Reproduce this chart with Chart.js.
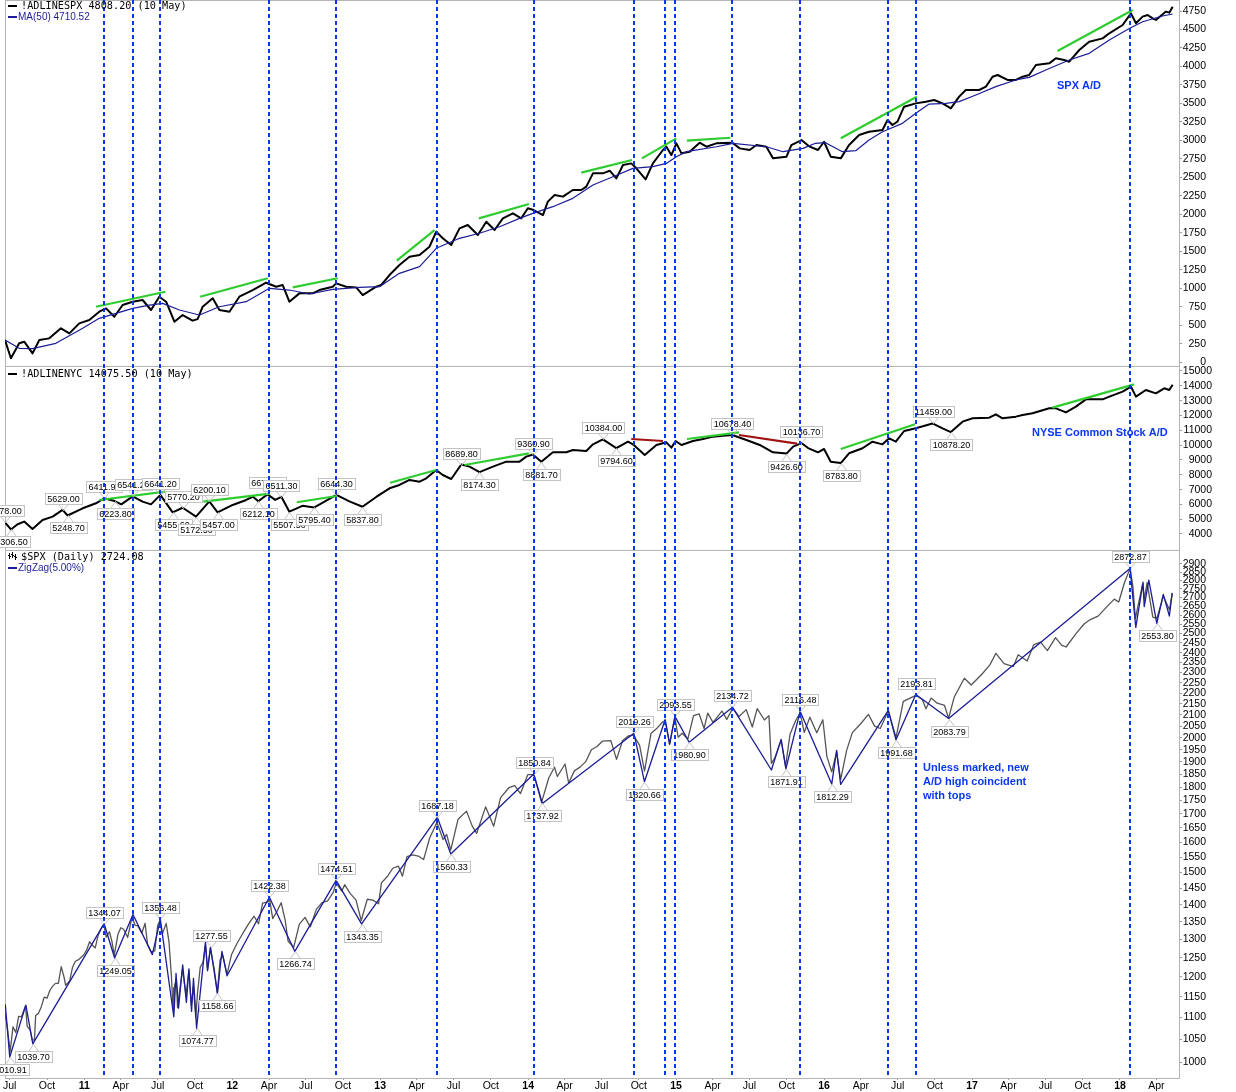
<!DOCTYPE html>
<html><head><meta charset="utf-8">
<script src="https://cdn.jsdelivr.net/npm/chart.js@4/dist/chart.umd.min.js"></script>
<style>html,body{margin:0;padding:0;background:#fff;overflow:hidden}canvas{display:block}</style>
</head><body>
<canvas id="c" width="1236" height="1092"></canvas>
<script>
// ---------- DATA ----------
const xTickDates = ['2010-07-01','2010-10-01','2011-01-01','2011-04-01','2011-07-01','2011-10-01','2012-01-01','2012-04-01','2012-07-01','2012-10-01','2013-01-01','2013-04-01','2013-07-01','2013-10-01','2014-01-01','2014-04-01','2014-07-01','2014-10-01','2015-01-01','2015-04-01','2015-07-01','2015-10-01','2016-01-01','2016-04-01','2016-07-01','2016-10-01','2017-01-01','2017-04-01','2017-07-01','2017-10-01','2018-01-01','2018-04-01'];
const xTickLabels = ['Jul','Oct','11','Apr','Jul','Oct','12','Apr','Jul','Oct','13','Apr','Jul','Oct','14','Apr','Jul','Oct','15','Apr','Jul','Oct','16','Apr','Jul','Oct','17','Apr','Jul','Oct','18','Apr'];
const adTicks = [0,250,500,750,1000,1250,1500,1750,2000,2250,2500,2750,3000,3250,3500,3750,4000,4250,4500,4750];
const nyTicks = [4000,5000,6000,7000,8000,9000,10000,11000,12000,13000,14000,15000];
const spxTicks = [1000,1050,1100,1150,1200,1250,1300,1350,1400,1450,1500,1550,1600,1650,1700,1750,1800,1850,1900,1950,2000,2050,2100,2150,2200,2250,2300,2350,2400,2450,2500,2550,2600,2650,2700,2750,2800,2850,2900];

// vertical dashed "top" markers
const topDates = ['2011-02-18','2011-05-02','2011-07-07','2012-04-02','2012-09-14','2013-05-22','2014-01-15','2014-09-19','2014-12-05','2014-12-29','2015-05-20','2015-11-03','2016-06-08','2016-08-15','2018-01-26'];

// !ADLINESPX [decimal year, value]
const adSpx = [[2010.464,298],[2010.504,50],[2010.560,253],[2010.594,275],[2010.650,117],[2010.696,298],[2010.763,320],[2010.842,456],[2010.899,388],[2010.966,523],[2011.034,568],[2011.101,681],[2011.147,726],[2011.203,613],[2011.259,771],[2011.327,816],[2011.394,839],[2011.451,704],[2011.507,884],[2011.553,816],[2011.609,545],[2011.665,636],[2011.732,560],[2011.766,580],[2011.800,748],[2011.868,862],[2011.913,704],[2011.981,681],[2012.048,884],[2012.138,974],[2012.229,1073],[2012.297,1019],[2012.341,1042],[2012.386,816],[2012.454,929],[2012.544,929],[2012.589,974],[2012.679,1019],[2012.702,1064],[2012.770,1019],[2012.838,1010],[2012.882,906],[2012.973,1019],[2013.007,1042],[2013.063,1177],[2013.130,1313],[2013.198,1425],[2013.266,1448],[2013.333,1560],[2013.379,1764],[2013.423,1674],[2013.480,1583],[2013.536,1809],[2013.592,1854],[2013.626,1787],[2013.660,1719],[2013.717,1899],[2013.773,1787],[2013.829,1944],[2013.897,2012],[2013.953,1944],[2013.998,2080],[2014.037,2057],[2014.100,1989],[2014.133,2170],[2014.179,2260],[2014.235,2238],[2014.302,2328],[2014.359,2328],[2014.393,2373],[2014.438,2553],[2014.505,2553],[2014.551,2589],[2014.596,2485],[2014.641,2666],[2014.697,2688],[2014.731,2621],[2014.794,2472],[2014.843,2688],[2014.911,2869],[2014.934,2914],[2014.968,2801],[2015.002,2959],[2015.036,2824],[2015.092,2846],[2015.159,2968],[2015.205,2914],[2015.272,2959],[2015.380,2968],[2015.430,2891],[2015.497,2869],[2015.543,2936],[2015.610,2914],[2015.655,2756],[2015.746,2779],[2015.779,2936],[2015.847,3004],[2015.903,2914],[2015.959,2869],[2016.000,2981],[2016.045,2779],[2016.113,2756],[2016.169,2936],[2016.237,3072],[2016.304,3117],[2016.395,3139],[2016.429,3275],[2016.462,3207],[2016.496,3252],[2016.541,3455],[2016.620,3500],[2016.688,3523],[2016.744,3545],[2016.801,3500],[2016.857,3433],[2016.913,3591],[2016.958,3681],[2017.048,3681],[2017.094,3726],[2017.139,3861],[2017.173,3884],[2017.240,3817],[2017.296,3817],[2017.342,3861],[2017.386,3884],[2017.432,4019],[2017.522,4042],[2017.567,4110],[2017.623,4087],[2017.657,4064],[2017.725,4222],[2017.792,4335],[2017.883,4380],[2017.928,4448],[2018.018,4561],[2018.074,4719],[2018.108,4584],[2018.153,4674],[2018.187,4696],[2018.221,4651],[2018.243,4629],[2018.311,4742],[2018.333,4728],[2018.356,4808]];

// MA(50) of !ADLINESPX
const adSpxMA = [[2010.464,298],[2010.560,185],[2010.650,180],[2010.808,253],[2010.989,456],[2011.101,591],[2011.327,726],[2011.440,771],[2011.530,794],[2011.643,704],[2011.778,636],[2011.913,748],[2012.094,816],[2012.251,997],[2012.386,974],[2012.521,920],[2012.679,983],[2012.860,1010],[2012.995,1019],[2013.130,1200],[2013.266,1290],[2013.379,1539],[2013.536,1674],[2013.671,1742],[2013.807,1831],[2013.942,1944],[2014.032,2012],[2014.167,2102],[2014.302,2215],[2014.438,2395],[2014.573,2507],[2014.708,2621],[2014.843,2643],[2014.934,2688],[2015.002,2778],[2015.069,2846],[2015.272,2913],[2015.385,2959],[2015.610,2913],[2015.723,2846],[2015.858,2891],[2015.942,2960],[2016.010,2968],[2016.124,2846],[2016.214,2860],[2016.304,3004],[2016.395,3117],[2016.530,3230],[2016.620,3365],[2016.710,3491],[2016.823,3500],[2016.913,3523],[2017.026,3613],[2017.161,3726],[2017.296,3817],[2017.386,3852],[2017.522,3972],[2017.657,4087],[2017.792,4177],[2017.928,4357],[2018.063,4514],[2018.153,4605],[2018.288,4682],[2018.356,4710]];

// !ADLINENYC
const adNyse = [[2010.464,4778],[2010.504,4306.5],[2010.549,4655],[2010.594,4835],[2010.650,4340],[2010.718,4947],[2010.786,5172],[2010.853,5629],[2010.887,5248.7],[2010.989,5734],[2011.079,6071],[2011.135,6411.9],[2011.205,6223.8],[2011.250,6000],[2011.327,6541.2],[2011.394,6184],[2011.451,6000],[2011.514,6641.2],[2011.597,5455.6],[2011.665,5770.2],[2011.755,5172.5],[2011.845,6200.1],[2011.901,5457],[2012.003,5959],[2012.094,6296],[2012.140,6521],[2012.176,6212.1],[2012.238,6677.1],[2012.290,6300],[2012.332,6511.3],[2012.386,5507.5],[2012.474,5900],[2012.555,5795.4],[2012.704,6644.3],[2012.792,6200],[2012.880,5837.8],[2012.973,6500],[2013.063,7083],[2013.130,7308],[2013.198,7646],[2013.266,7533],[2013.311,7758],[2013.379,8320],[2013.423,7983],[2013.480,7713],[2013.548,8689.8],[2013.604,8545],[2013.671,8174.3],[2013.762,8545],[2013.852,8883],[2013.942,8883],[2013.987,9220],[2014.032,9360.9],[2014.089,8881.7],[2014.167,9513],[2014.258,9513],[2014.302,9670],[2014.393,9602],[2014.438,10052],[2014.505,10384],[2014.596,9794.6],[2014.675,10232],[2014.708,10052],[2014.788,9333],[2014.867,10007],[2014.934,10187],[2014.968,9827],[2014.997,10277],[2015.036,10007],[2015.114,10277],[2015.182,10412],[2015.249,10570],[2015.317,10637],[2015.380,10678.4],[2015.475,10345],[2015.565,10007],[2015.655,9513],[2015.746,9426.6],[2015.791,9895],[2015.847,10136.7],[2015.892,9800],[2015.959,9513],[2016.000,9736],[2016.045,8880],[2016.113,8783.8],[2016.169,9446],[2016.260,9784],[2016.327,10229],[2016.395,10050],[2016.440,10459],[2016.485,10232],[2016.541,10951],[2016.620,11133],[2016.733,11459],[2016.801,11132],[2016.857,10878.2],[2016.936,11582],[2017.004,11806],[2017.116,11851],[2017.161,12076],[2017.206,11806],[2017.296,11919],[2017.342,12031],[2017.409,12144],[2017.522,12481],[2017.567,12481],[2017.635,12211],[2017.702,12594],[2017.770,13088],[2017.883,13088],[2017.928,13268],[2018.018,13606],[2018.074,13950],[2018.108,13268],[2018.175,13718],[2018.243,13493],[2018.299,13831],[2018.333,13718],[2018.356,14075.5]];
const nyPeaks = [[2010.464,4778.00],[2010.853,5629.00],[2011.135,6411.90],[2011.327,6541.20],[2011.514,6641.20],[2011.665,5770.20],[2011.845,6200.10],[2012.238,6677.10],[2012.332,6511.30],[2012.704,6644.30],[2013.548,8689.80],[2014.032,9360.90],[2014.505,10384.00],[2015.380,10678.40],[2015.847,10136.70],[2016.733,11459.00]];
const nyTroughs = [[2010.504,4306.50],[2010.887,5248.70],[2011.205,6223.80],[2011.597,5455.60],[2011.755,5172.50],[2011.901,5457.00],[2012.176,6212.10],[2012.386,5507.50],[2012.555,5795.40],[2012.880,5837.80],[2013.671,8174.30],[2014.089,8881.70],[2014.596,9794.60],[2015.746,9426.60],[2016.113,8783.80],[2016.857,10878.20]];

// $SPX daily closes [date, close]
const spxClose = [['2010-06-18',1117.5],['2010-06-25',1076.8],['2010-07-02',1022.6],['2010-07-09',1078],['2010-07-16',1065],['2010-07-23',1102.7],['2010-07-30',1101.6],['2010-08-09',1127.8],['2010-08-13',1079.3],['2010-08-20',1071.7],['2010-08-26',1047.2],['2010-08-31',1049.3],['2010-09-03',1104.5],['2010-09-10',1109.6],['2010-09-17',1125.6],['2010-09-24',1148.7],['2010-10-01',1146.2],['2010-10-08',1165.2],['2010-10-15',1176.2],['2010-10-22',1183.1],['2010-10-29',1183.3],['2010-11-05',1225.9],['2010-11-12',1199.2],['2010-11-16',1178.3],['2010-11-26',1189.4],['2010-12-03',1224.7],['2010-12-10',1240.4],['2010-12-17',1243.9],['2010-12-31',1257.6],['2011-01-07',1271.5],['2011-01-14',1293.2],['2011-01-21',1283.4],['2011-01-28',1276.3],['2011-02-04',1310.9],['2011-02-11',1329.2],['2011-02-18',1343.0],['2011-02-24',1306.1],['2011-03-04',1321.2],['2011-03-10',1295.1],['2011-03-16',1256.9],['2011-03-25',1313.8],['2011-04-01',1332.4],['2011-04-08',1328.2],['2011-04-18',1305.1],['2011-04-29',1363.6],['2011-05-06',1340.2],['2011-05-13',1337.8],['2011-05-23',1317.4],['2011-05-31',1345.2],['2011-06-06',1286.2],['2011-06-15',1265.4],['2011-06-24',1268.5],['2011-07-01',1339.7],['2011-07-07',1353.2],['2011-07-12',1313.6],['2011-07-22',1345.0],['2011-07-29',1292.3],['2011-08-04',1200.1],['2011-08-08',1119.5],['2011-08-09',1172.5],['2011-08-10',1120.8],['2011-08-12',1178.8],['2011-08-16',1192.8],['2011-08-19',1123.5],['2011-08-31',1218.9],['2011-09-09',1154.2],['2011-09-16',1216.0],['2011-09-22',1129.6],['2011-09-27',1175.4],['2011-10-03',1099.2],['2011-10-07',1155.5],['2011-10-14',1224.6],['2011-10-21',1238.2],['2011-10-27',1284.6],['2011-11-01',1218.3],['2011-11-08',1275.9],['2011-11-18',1215.7],['2011-11-25',1158.7],['2011-12-02',1244.3],['2011-12-09',1255.2],['2011-12-19',1205.4],['2011-12-30',1257.6],['2012-01-13',1289.1],['2012-01-27',1316.3],['2012-02-10',1342.6],['2012-02-24',1365.7],['2012-03-06',1343.4],['2012-03-16',1404.2],['2012-03-30',1408.5],['2012-04-02',1419.0],['2012-04-10',1358.6],['2012-04-20',1378.5],['2012-05-01',1405.8],['2012-05-11',1353.4],['2012-05-18',1295.2],['2012-06-01',1278.0],['2012-06-15',1342.8],['2012-06-29',1362.2],['2012-07-12',1334.8],['2012-07-27',1385.9],['2012-08-10',1405.9],['2012-08-24',1411.1],['2012-09-07',1437.9],['2012-09-14',1465.8],['2012-09-28',1440.7],['2012-10-05',1460.9],['2012-10-19',1433.2],['2012-11-02',1414.2],['2012-11-15',1353.3],['2012-11-30',1416.2],['2012-12-14',1413.6],['2012-12-28',1402.4],['2013-01-04',1466.5],['2013-01-18',1485.9],['2013-02-01',1513.2],['2013-02-15',1519.8],['2013-02-25',1487.9],['2013-03-08',1551.2],['2013-03-22',1556.9],['2013-04-05',1553.3],['2013-04-18',1541.6],['2013-05-03',1614.4],['2013-05-21',1669.2],['2013-06-05',1608.9],['2013-06-14',1626.7],['2013-06-24',1573.1],['2013-07-12',1680.2],['2013-08-02',1709.7],['2013-08-16',1655.8],['2013-08-27',1630.5],['2013-09-18',1725.5],['2013-10-08',1655.5],['2013-10-25',1759.8],['2013-11-15',1798.2],['2013-11-29',1805.8],['2013-12-13',1775.3],['2013-12-31',1848.4],['2014-01-15',1848.4],['2014-02-03',1741.9],['2014-02-21',1836.3],['2014-03-07',1878.0],['2014-03-14',1841.1],['2014-04-02',1890.9],['2014-04-11',1815.7],['2014-04-25',1863.4],['2014-05-09',1878.5],['2014-05-23',1900.5],['2014-06-06',1949.4],['2014-06-20',1962.9],['2014-07-03',1985.4],['2014-07-24',1988.0],['2014-08-07',1909.6],['2014-08-22',1988.4],['2014-09-05',2007.7],['2014-09-18',2011.4],['2014-10-03',1967.9],['2014-10-15',1862.5],['2014-10-31',2018.1],['2014-11-14',2039.8],['2014-11-28',2067.6],['2014-12-05',2075.4],['2014-12-16',1972.7],['2014-12-29',2090.6],['2015-01-06',2002.6],['2015-01-16',2019.4],['2015-01-30',1995.0],['2015-02-13',2097.0],['2015-02-27',2104.5],['2015-03-11',2040.2],['2015-03-20',2108.1],['2015-04-02',2067.0],['2015-04-24',2117.7],['2015-05-06',2080.2],['2015-05-21',2130.8],['2015-06-05',2092.8],['2015-06-23',2124.2],['2015-07-08',2046.7],['2015-07-20',2128.3],['2015-08-07',2077.6],['2015-08-18',2096.9],['2015-08-24',1893.2],['2015-09-01',1913.9],['2015-09-17',1990.2],['2015-09-28',1881.8],['2015-10-09',2014.9],['2015-10-23',2075.2],['2015-11-03',2109.8],['2015-11-13',2023.0],['2015-11-27',2090.1],['2015-12-14',2021.9],['2015-12-29',2078.4],['2016-01-08',1922.0],['2016-01-20',1859.3],['2016-02-01',1939.4],['2016-02-11',1829.1],['2016-02-26',1948.1],['2016-03-11',2022.2],['2016-03-31',2059.7],['2016-04-20',2102.4],['2016-05-05',2050.6],['2016-05-19',2040.0],['2016-06-08',2119.1],['2016-06-27',2000.5],['2016-07-15',2161.7],['2016-08-15',2190.2],['2016-08-31',2170.9],['2016-09-09',2127.8],['2016-09-22',2177.2],['2016-10-07',2153.7],['2016-10-25',2143.2],['2016-11-04',2085.2],['2016-11-18',2181.9],['2016-12-13',2271.7],['2016-12-30',2238.8],['2017-01-27',2294.7],['2017-02-14',2337.6],['2017-03-01',2396.0],['2017-03-21',2344.0],['2017-04-13',2329.0],['2017-04-25',2388.6],['2017-05-17',2357.0],['2017-06-02',2439.1],['2017-06-19',2453.5],['2017-07-06',2409.8],['2017-07-26',2477.8],['2017-08-10',2438.2],['2017-08-21',2428.4],['2017-09-15',2500.2],['2017-10-05',2552.1],['2017-10-20',2575.2],['2017-11-08',2594.4],['2017-11-30',2647.6],['2017-12-18',2690.2],['2017-12-29',2673.6],['2018-01-12',2786.2],['2018-01-26',2872.9],['2018-02-02',2762.1],['2018-02-08',2581.0],['2018-02-26',2779.6],['2018-03-02',2691.3],['2018-03-09',2786.6],['2018-03-23',2588.3],['2018-04-02',2581.9],['2018-04-18',2708.6],['2018-05-03',2629.7],['2018-05-10',2723.1]];

// ZigZag(5%) pivots [decimal year, value]
const zigzag = [[2010.466,1131.2],[2010.496,1010.91],[2010.605,1129.2],[2010.652,1039.70],[2011.134,1344.07],[2011.205,1249.05],[2011.329,1370.58],[2011.460,1258.07],[2011.514,1356.48],[2011.605,1101.54],[2011.620,1208.5],[2011.637,1122.0],[2011.665,1230.7],[2011.690,1136.0],[2011.707,1220.4],[2011.725,1114.2],[2011.738,1195.9],[2011.759,1074.77],[2011.819,1292.7],[2011.833,1215.4],[2011.853,1277.55],[2011.900,1158.66],[2011.930,1267.1],[2011.965,1202.4],[2012.251,1422.38],[2012.423,1266.74],[2012.702,1474.51],[2012.874,1343.35],[2013.386,1687.18],[2013.477,1560.33],[2014.038,1850.84],[2014.096,1737.92],[2014.715,2019.26],[2014.786,1820.66],[2014.926,2079.5],[2014.956,1972.6],[2014.992,2093.55],[2015.088,1980.90],[2015.381,2134.72],[2015.644,1867.0],[2015.710,1993.3],[2015.742,1871.91],[2015.838,2116.48],[2016.052,1812.29],[2016.085,1947.2],[2016.112,1810.1],[2016.434,2120.6],[2016.486,1991.68],[2016.620,2193.81],[2016.842,2083.79],[2018.068,2872.87],[2018.107,2532.7],[2018.156,2789.2],[2018.164,2647.3],[2018.195,2801.9],[2018.249,2553.80],[2018.293,2717.5],[2018.334,2594.6],[2018.353,2726.1]];
const spxPeaks = [[2011.134,1344.07],[2011.514,1356.48],[2011.853,1277.55],[2012.251,1422.38],[2012.702,1474.51],[2013.386,1687.18],[2014.038,1850.84],[2014.715,2019.26],[2014.992,2093.55],[2015.381,2134.72],[2015.838,2116.48],[2016.620,2193.81],[2018.068,2872.87]];
const spxTroughs = [[2010.496,1010.91],[2010.652,1039.70],[2011.205,1249.05],[2011.759,1074.77],[2011.900,1158.66],[2012.423,1266.74],[2012.874,1343.35],[2013.477,1560.33],[2014.096,1737.92],[2014.786,1820.66],[2015.088,1980.90],[2015.742,1871.91],[2016.052,1812.29],[2016.486,1991.68],[2016.842,2083.79],[2018.249,2553.80]];

// trend lines [x1, v1, x2, v2]
const adGreen = [[2011.079,748,2011.548,951],[2011.783,884,2012.240,1133],[2012.409,1010,2012.713,1133],[2013.112,1373,2013.367,1786],[2013.667,1944,2014.005,2138],[2014.359,2562,2014.702,2733],[2014.769,2756,2015.002,3027],[2015.073,2995,2015.367,3035],[2016.113,3027,2016.627,3590],[2017.578,4208,2018.086,4763]];
const nyGreen = [[2011.101,6295,2011.548,6857],[2011.805,6180,2012.256,6720],[2012.436,6140,2012.706,6565],[2013.067,7462,2013.379,8319],[2013.570,8657,2014.005,9446],[2015.073,10411,2015.425,10863],[2016.113,9736,2016.615,11403],[2017.544,12525,2018.096,14100]];
const nyRed = [[2014.697,10411,2014.911,10276],[2015.425,10681,2015.817,10094]];

// ---------- HELPERS ----------
function dy(s){const [Y,M,D]=s.split('-').map(Number);const t=Date.UTC(Y,M-1,D),a=Date.UTC(Y,0,1),b=Date.UTC(Y+1,0,1);return Y+(t-a)/(b-a);}
const pts = arr => arr.map(([x,y])=>({x,y}));
const BLUE = '#0a37f5', NAVY = '#1c1c96', GREEN = '#2ecc2e', RED = '#a01212';
const AX = 'Liberation Sans';

function segDatasets(list, axis, color){
  return list.map(([x1,y1,x2,y2])=>({data:[{x:x1,y:y1},{x:x2,y:y2}],yAxisID:axis,borderColor:color,borderWidth:2.2,pointRadius:0,order:0}));
}

function yScale(ticks, extra){
  return Object.assign({
    position:'right', stack:'panels', offset:false,
    grid:{drawOnChartArea:false, drawTicks:true, tickLength:3, color:'#999'},
    border:{display:true, color:'#aaa'},
    ticks:{display:false, autoSkip:false, callback:v=>String(v)},
    afterBuildTicks:s=>{s.ticks = ticks.map(v=>({value:v}));},
    afterFit:s=>{s.width=57; s.paddingTop=0; s.paddingBottom=0;}
  }, extra);
}

function drawLabels(ctx, xs, ys, peaks, troughs){
  const items = peaks.map(p=>[p[0],p[1],true]).concat(troughs.map(p=>[p[0],p[1],false])).sort((a,b)=>a[0]-b[0]);
  ctx.save();
  ctx.font = '9px "Liberation Sans"';
  ctx.textAlign='center'; ctx.textBaseline='middle';
  for(const [x,v,up] of items){
    const px = Math.round(xs.getPixelForValue(x)), py = Math.round(ys.getPixelForValue(v));
    const t = v.toFixed(2);
    const w = Math.round(ctx.measureText(t).width)+4, h = 11;
    const cy = up ? py-12 : py+12;
    const top = Math.round(cy-h/2), left = Math.round(px-w/2);
    ctx.strokeStyle='#c4c4c4'; ctx.lineWidth=1;
    ctx.beginPath();
    const edge = up ? top+h : top;
    ctx.moveTo(px-4.5, edge+0.5); ctx.lineTo(px+0.5, py+0.5); ctx.lineTo(px+5.5, edge+0.5);
    ctx.stroke();
    ctx.fillStyle='#fff'; ctx.fillRect(left, top, w, h);
    ctx.strokeRect(left+0.5, top+0.5, w, h);
    ctx.fillStyle='#000'; ctx.fillText(t, px+0.5, top+h/2+1);
  }
  ctx.restore();
}

// right-axis tick labels, right-aligned to the widest label of each panel
function drawAxisLabels(ctx, ca, scale){
  ctx.save();
  ctx.font = '10.5px "Liberation Sans"';
  ctx.fillStyle = '#000'; ctx.textAlign = 'right'; ctx.textBaseline = 'middle';
  const labels = scale.ticks.map(t=>String(t.value));
  const widest = Math.max(...labels.map(l=>ctx.measureText(l).width));
  const xr = Math.round(ca.right + 4 + widest);
  scale.ticks.forEach((t,i)=>{ ctx.fillText(labels[i], xr, Math.round(scale.getPixelForValue(t.value))+0.5); });
  ctx.restore();
}

const decor = {
  id:'decor',
  beforeDatasetsDraw(chart){
    const {ctx, chartArea:ca, scales} = chart;
    ctx.save(); ctx.strokeStyle='#b4b4b4'; ctx.lineWidth=1;
    for(const id of ['yA','yN','yS']){
      const s = scales[id];
      ctx.strokeRect(Math.round(ca.left)+0.5, Math.round(s.top)+0.5, Math.round(ca.right-ca.left), Math.round(s.bottom-s.top));
    }
    ctx.restore();
  },
  afterDatasetsDraw(chart){
    const {ctx, chartArea:ca, scales} = chart;
    const xs = scales.x;
    drawLabels(ctx, xs, scales.yN, nyPeaks, nyTroughs);
    drawLabels(ctx, xs, scales.yS, spxPeaks, spxTroughs);
    // dashed verticals
    ctx.save(); ctx.strokeStyle=BLUE; ctx.lineWidth=2; ctx.setLineDash([4,3]);
    for(const d of topDates){
      const px = Math.round(xs.getPixelForValue(dy(d)));
      ctx.beginPath(); ctx.moveTo(px, ca.top); ctx.lineTo(px, ca.bottom-3); ctx.stroke();
    }
    ctx.restore();
    // legends
    ctx.save();
    ctx.textBaseline='middle'; ctx.textAlign='left';
    const mono = '10.2px "DejaVu Sans Mono"';
    const yA = scales.yA.top, yN = scales.yN.top, yS = scales.yS.top;
    ctx.fillStyle='#000'; ctx.fillRect(8, yA+5, 9, 2);
    ctx.font = mono; ctx.fillText('!ADLINESPX 4808.20 (10 May)', 21, yA+6.5);
    ctx.fillStyle=NAVY; ctx.fillRect(8, yA+16, 9, 2);
    ctx.font = '10px "Liberation Sans"'; ctx.fillText('MA(50) 4710.52', 18, yA+17.5);
    ctx.fillStyle='#000'; ctx.fillRect(8, yN+7, 9, 2);
    ctx.font = mono; ctx.fillText('!ADLINENYC 14075.50 (10 May)', 21, yN+8);
    ctx.strokeStyle='#000'; ctx.lineWidth=1;
    ctx.beginPath();
    [[9,3,9],[12,2,8],[15,4,10]].forEach(([x,a,b])=>{ctx.moveTo(x+0.5,yS+a);ctx.lineTo(x+0.5,yS+b);ctx.moveTo(x-1,yS+a+2.5);ctx.lineTo(x+0.5,yS+a+2.5);ctx.moveTo(x+0.5,yS+b-2.5);ctx.lineTo(x+2,yS+b-2.5);});
    ctx.stroke();
    ctx.fillStyle='#000'; ctx.font = mono; ctx.fillText('$SPX (Daily) 2724.08', 21, yS+7);
    ctx.fillStyle=NAVY; ctx.fillRect(8, yS+17, 9, 2);
    ctx.font = '10px "Liberation Sans"'; ctx.fillText('ZigZag(5.00%)', 18, yS+18.5);
    ctx.fillStyle=BLUE; ctx.font = 'bold 11px "Liberation Sans"';
    ctx.fillText('SPX A/D', 1057, 86);
    ctx.fillText('NYSE Common Stock A/D', 1032, 433);
    ctx.fillText('Unless marked, new', 923, 768);
    ctx.fillText('A/D high coincident', 923, 782);
    ctx.fillText('with tops', 923, 796);
    ctx.restore();
  },
  afterDraw(chart){
    const {ctx, chartArea:ca, scales} = chart;
    ['yA','yN','yS'].forEach(id=>drawAxisLabels(ctx, ca, scales[id]));
  }
};

const xTickVals = xTickDates.map(dy);

new Chart(document.getElementById('c'), {
  type:'line',
  data:{datasets:[
    ...segDatasets(adGreen,'yA',GREEN),
    ...segDatasets(nyGreen,'yN',GREEN),
    ...segDatasets(nyRed,'yN',RED),
    {data:pts(adSpxMA), yAxisID:'yA', borderColor:NAVY, borderWidth:1.2, pointRadius:0, order:1},
    {data:pts(adSpx), yAxisID:'yA', borderColor:'#000', borderWidth:2, pointRadius:0, order:2},
    {data:pts(adNyse), yAxisID:'yN', borderColor:'#000', borderWidth:2, pointRadius:0, order:2},
    {data:pts(zigzag), yAxisID:'yS', borderColor:NAVY, borderWidth:1.3, pointRadius:0, order:1},
    {data:spxClose.map(([d,v])=>({x:dy(d),y:v})), yAxisID:'yS', borderColor:'#555', borderWidth:1.3, pointRadius:0, order:2}
  ]},
  options:{
    responsive:false, animation:false, devicePixelRatio:1, events:[],
    layout:{padding:{left:5,right:0,top:0,bottom:0}},
    plugins:{legend:{display:false}, tooltip:{enabled:false}},
    elements:{line:{tension:0, borderJoinStyle:'round'}},
    scales:{
      x:{type:'linear', position:'bottom', min:2010.464, max:2018.399,
        grid:{drawOnChartArea:false, drawTicks:true, tickLength:2, color:'#999'},
        border:{display:true, color:'#aaa'},
        ticks:{autoSkip:false, maxRotation:0, padding:0, color:'#000',
          callback:(v,i)=>xTickLabels[i],
          font:c=>({family:AX, size:10.5, weight:(c.tick && /^\d\d$/.test(c.tick.label))?'bold':'normal'})},
        afterBuildTicks:s=>{s.ticks = xTickVals.map(v=>({value:v}));},
        afterFit:s=>{s.height=14; s.paddingLeft=0; s.paddingRight=0;}
      },
      yA: yScale(adTicks, {type:'linear', min:-54, max:4899, stackWeight:366}),
      yN: yScale(nyTicks, {type:'linear', min:2920, max:15337, stackWeight:184}),
      yS: yScale(spxTicks, {type:'logarithmic', min:966.4, max:2988, stackWeight:528})
    }
  },
  plugins:[decor]
});
</script></body></html>
